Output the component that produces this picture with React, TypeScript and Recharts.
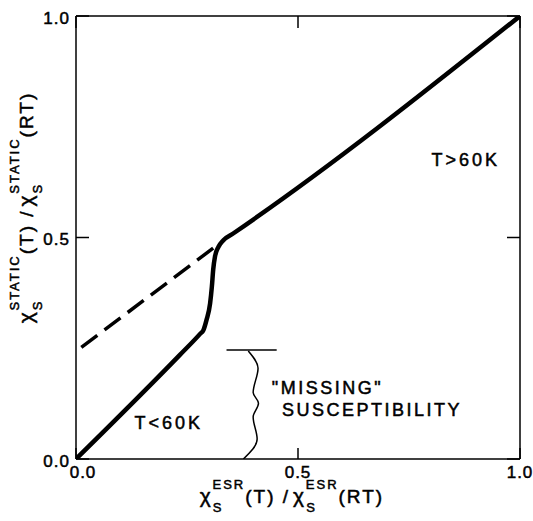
import React from "react";
import { LineChart, Line, XAxis, YAxis, ReferenceDot } from "recharts";

// axis ticks
const axisTicks = [0, 0.5, 1];
const tickLabels = ["0.0", "0.5", "1.0"];

// main curve (solid): linear below 60K, jump, linear above 60K
const solidX = [0, 0.234, 0.28, 0.287, 0.294, 0.302, 0.306, 0.309, 0.313, 0.321, 0.332, 0.354, 1];
const solidY = [0, 0.235, 0.283, 0.291, 0.314, 0.351, 0.389, 0.427, 0.457, 0.479, 0.494, 0.509, 1];

// extrapolation of the high-T line (dashed)
const dashX = [0.012, 0.313];
const dashY = [0.252, 0.479];

// "missing" bracket: top bar and wavy brace
const barX = [0.339, 0.452];
const barY = [0.246, 0.246];
const braceX = [0.388, 0.41, 0.399, 0.411, 0.399, 0.408, 0.377];
const braceY = [0.244, 0.205, 0.15, 0.126, 0.095, 0.045, 0];

// text annotations (data coords)
const noteText = ["T>60K", "T<60K", "\"MISSING\"", "SUSCEPTIBILITY"];
const noteX = [0.878, 0.209, 0.441, 0.464];
const noteY = [0.675, 0.081, 0.16, 0.111];

const toPoints = (xs: number[], ys: number[]) => xs.map((x, i) => ({ x, y: ys[i] }));
const solidData = toPoints(solidX, solidY);
const dashData = toPoints(dashX, dashY);
const barData = toPoints(barX, barY);
const braceData = toPoints(braceX, braceY);

const font = "'Liberation Sans', Arial, sans-serif";
const fmt = (v: number) => tickLabels[axisTicks.indexOf(v)] ?? String(v);
// slightly heavier lettering, like the original figure
const ink = { fill: "#000", stroke: "#000", strokeWidth: 0.5 };

function BottomTick(props: any) {
  const { x, y, payload } = props;
  const shift = payload.value === 0 ? 7 : 0;
  return (
    <text x={x + shift} y={y} dy="0.71em" textAnchor="middle" fontSize={17}
      fontFamily={font} letterSpacing={1} {...ink}>
      {fmt(payload.value)}
    </text>
  );
}

function LeftTick(props: any) {
  const { x, y, payload } = props;
  return (
    <text x={x} y={y + 2} dy="0.35em" textAnchor="end" fontSize={17}
      fontFamily={font} letterSpacing={1} {...ink}>
      {fmt(payload.value)}
    </text>
  );
}

const NoTick = () => <g />;

// chi_S^{sup}(T) / chi_S^{sup}(RT)
function titleSpans(sup: string, subW: number) {
  return [
    <tspan key="a" fontSize={21}>χ</tspan>,
    <tspan key="b" fontSize={13} dy={9}>S</tspan>,
    <tspan key="c" fontSize={13} dx={-subW} dy={-23}>{sup}</tspan>,
    <tspan key="d" dy={14}>(T) /</tspan>,
    <tspan key="e" dx={3} fontSize={21}>χ</tspan>,
    <tspan key="f" fontSize={13} dy={9}>S</tspan>,
    <tspan key="g" fontSize={13} dx={-subW} dy={-23}>{sup}</tspan>,
    <tspan key="h" dy={14}>(RT)</tspan>,
  ];
}

function XTitle(props: any) {
  const vb = props.viewBox;
  return (
    <text x={vb.x + vb.width / 2 - 6} y={vb.y + 44} textAnchor="middle" fontSize={19}
      fontFamily={font} letterSpacing={2} {...ink}>
      {titleSpans("ESR", 11)}
    </text>
  );
}

function YTitle(props: any) {
  const vb = props.viewBox;
  const cy = vb.y + vb.height / 2 - 30;
  return (
    <text transform={`translate(33, ${cy}) rotate(-90)`} x={0} y={0} textAnchor="middle"
      fontSize={19} fontFamily={font} letterSpacing={2} {...ink}>
      {titleSpans("STATIC", 11)}
    </text>
  );
}

const axisStroke = { stroke: "#000", strokeWidth: 1.5 };

export default function App() {
  return (
    <div style={{ position: "absolute", left: 0, top: 0, background: "#fff" }}>
      <LineChart width={533} height={521} margin={{ top: 15, right: 12, bottom: 0, left: 0 }}>
        <XAxis
          xAxisId={0}
          dataKey="x"
          type="number"
          domain={[0, 1]}
          ticks={axisTicks}
          allowDataOverflow
          height={62}
          axisLine={axisStroke}
          tickLine={axisStroke}
          tickSize={-11}
          tickMargin={18}
          tick={BottomTick}
          label={{ content: XTitle }}
        />
        <XAxis
          xAxisId="top"
          orientation="top"
          dataKey="x"
          type="number"
          domain={[0, 1]}
          ticks={axisTicks}
          allowDataOverflow
          height={1}
          axisLine={axisStroke}
          tickLine={axisStroke}
          tickSize={-12}
          tick={NoTick}
        />
        <YAxis
          yAxisId={0}
          type="number"
          domain={[0, 1]}
          ticks={axisTicks}
          allowDataOverflow
          width={76}
          axisLine={axisStroke}
          tickLine={axisStroke}
          tickSize={-13}
          tickMargin={19}
          tick={LeftTick}
          label={{ content: YTitle }}
        />
        <YAxis
          yAxisId="right"
          orientation="right"
          type="number"
          domain={[0, 1]}
          ticks={axisTicks}
          allowDataOverflow
          width={1}
          axisLine={axisStroke}
          tickLine={axisStroke}
          tickSize={-13}
          tick={NoTick}
        />
        <Line data={dashData} dataKey="y" type="linear" stroke="#000" strokeWidth={3.5}
          strokeDasharray="20 9" dot={false} activeDot={false} isAnimationActive={false} />
        <Line data={solidData} dataKey="y" type="monotone" stroke="#000" strokeWidth={4.5}
          dot={false} activeDot={false} isAnimationActive={false} />
        <Line data={barData} dataKey="y" type="linear" stroke="#000" strokeWidth={1.5}
          dot={false} activeDot={false} isAnimationActive={false} />
        <Line data={braceData} dataKey="y" type="monotoneY" stroke="#000" strokeWidth={1.5}
          dot={false} activeDot={false} isAnimationActive={false} />
        {/* ghost series so the top/right frame axes get drawn */}
        <Line data={barData} dataKey="y" xAxisId="top" yAxisId="right" stroke="none"
          dot={false} activeDot={false} isAnimationActive={false} />
        {noteText.map((t, i) => (
          <ReferenceDot
            key={t}
            x={noteX[i]}
            y={noteY[i]}
            r={0}
            shape={(p: any) => (
              <text x={p.cx} y={p.cy} dy="0.35em" textAnchor={i < 2 ? "middle" : "start"}
                fontSize={18} fontFamily={font} letterSpacing={i < 2 ? 3 : 2.5} {...ink}>
                {t}
              </text>
            )}
          />
        ))}
      </LineChart>
    </div>
  );
}
